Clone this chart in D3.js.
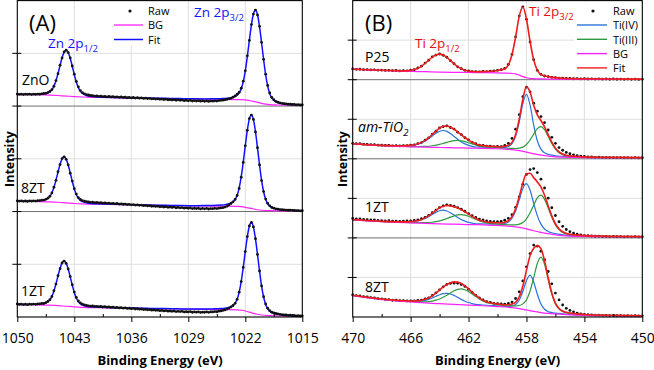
<!DOCTYPE html>
<html>
<head>
<meta charset="utf-8">
<script src="https://cdn.jsdelivr.net/npm/d3@7"></script>
<style>
  body { margin: 0; background: #fff; }
  svg { display: block; }
  text { font-family: "Open Sans", sans-serif; }
</style>
</head>
<body>
<svg></svg>
<script>
let width = 654, height = 370;

// ---------- data : panel A (Zn 2p), intensity in % of one stacked row ----------
const beA = d3.range(1050, 1014.99, -0.25);

const znoRaw = [
  11.4, 11.0, 11.3, 10.9, 11.3, 11.0, 11.4, 10.9, 11.3, 11.0, 11.4, 11.2,
  11.6, 11.9, 12.1, 12.8, 13.8, 15.6, 18.8, 24.2, 30.7, 38.8, 45.6, 51.3,
  53.0, 50.7, 45.6, 38.0, 30.2, 23.3, 18.2, 14.7, 12.8, 11.6, 10.9, 10.5,
  10.0, 9.9, 9.5, 9.6, 9.2, 9.4, 9.0, 9.2, 8.8, 9.1, 8.7, 8.9,
  8.5, 8.8, 8.3, 8.6, 8.2, 8.4, 7.9, 8.2, 7.8, 8.1, 7.6, 7.9,
  7.5, 7.7, 7.2, 7.5, 7.1, 7.3, 6.8, 7.0, 6.6, 6.9, 6.4, 6.6,
  6.2, 6.5, 6.0, 6.1, 5.8, 6.1, 5.5, 5.9, 5.4, 5.7, 5.1, 5.5,
  5.0, 5.4, 4.8, 5.2, 4.7, 5.1, 4.6, 5.0, 4.5, 4.9, 4.4, 4.9,
  4.6, 5.0, 4.7, 5.2, 5.4, 5.6, 5.9, 6.3, 6.9, 7.4, 8.4, 9.6,
  11.2, 13.1, 16.9, 23.6, 33.4, 47.6, 62.2, 77.3, 87.2, 91.0, 86.4, 75.6,
  60.4, 44.3, 30.2, 19.6, 12.4, 8.3, 6.0, 4.5, 3.6, 3.0, 2.6, 2.3,
  2.0, 1.8, 1.7, 1.5, 1.5, 1.2, 1.3, 1.0, 1.1
];
const znoFit = [
  [1050, 11.2], [1049, 11.2], [1048, 11.2], [1047.5, 11.3], [1047, 11.5], [1046.5, 12.0],
  [1046.25, 12.65], [1046, 13.7], [1045.75, 15.5], [1045.5, 18.9], [1045.25, 24.0], [1045, 30.9],
  [1044.75, 38.6], [1044.5, 45.85], [1044.25, 51.1], [1044, 53.0], [1043.75, 50.9], [1043.5, 45.35],
  [1043.25, 37.8], [1043, 29.9], [1042.75, 22.8], [1042.5, 17.5], [1042.25, 13.9], [1042, 11.9],
  [1041.5, 10.0], [1041, 9.2], [1040, 8.6], [1039, 8.35], [1038, 8.15], [1037, 8.0], [1036, 7.8],
  [1035, 7.7], [1034, 7.55], [1033, 7.45], [1032, 7.35], [1031, 7.25], [1030, 7.1], [1029, 6.95],
  [1028, 6.85], [1027, 6.8], [1026, 6.85], [1025, 7.05], [1024.5, 7.2], [1024, 7.6], [1023.75, 7.9],
  [1023.5, 8.4], [1023.25, 9.1], [1023, 10.4], [1022.75, 12.5], [1022.5, 16.3], [1022.25, 23.1],
  [1022, 33.4], [1021.75, 47.1], [1021.5, 62.4], [1021.25, 76.9], [1021, 87.5], [1020.75, 91.0],
  [1020.5, 86.6], [1020.25, 75.2], [1020, 60.0], [1019.75, 44.0], [1019.5, 29.7], [1019.25, 19.0],
  [1019, 11.8], [1018.75, 7.7], [1018.5, 5.5], [1018.25, 4.0], [1018, 3.25], [1017.5, 2.35],
  [1017, 1.8], [1016, 1.4], [1015, 1.1]
];
const znoBg = [
  [1050, 11.0], [1048, 10.8], [1046, 10.4], [1045, 10.0], [1044, 9.5], [1043, 9.0], [1042, 8.6],
  [1041, 8.3], [1040, 8.1], [1035, 7.5], [1030, 6.9], [1025, 6.4], [1023, 6.2], [1022, 5.9],
  [1021.5, 5.3], [1021, 4.5], [1020.5, 3.5], [1020, 2.6], [1019.5, 1.9], [1019, 1.4], [1018, 1.0],
  [1017, 0.8], [1015, 0.6]
];

const a8ztRaw = [
  10.2, 9.8, 10.1, 9.7, 10.0, 9.6, 10.1, 9.8, 10.1, 9.9, 10.3, 10.4,
  10.8, 10.9, 11.6, 12.7, 14.5, 17.6, 23.1, 29.6, 37.7, 44.5, 50.2, 51.9,
  49.5, 44.3, 36.4, 28.9, 21.7, 16.6, 13.2, 11.4, 10.3, 9.9, 9.3, 9.1,
  8.7, 8.9, 8.4, 8.6, 8.2, 8.4, 7.9, 8.1, 7.8, 8.0, 7.5, 7.7,
  7.3, 7.6, 7.1, 7.3, 6.9, 7.1, 6.6, 6.8, 6.4, 6.6, 6.1, 6.3,
  5.9, 6.1, 5.6, 5.8, 5.3, 5.6, 5.0, 5.2, 4.8, 5.1, 4.5, 4.7,
  4.3, 4.6, 4.0, 4.3, 3.9, 4.2, 3.6, 3.9, 3.5, 3.8, 3.2, 3.5,
  3.1, 3.4, 2.8, 3.1, 2.8, 3.1, 2.5, 2.9, 2.6, 2.9, 2.4, 2.8,
  2.7, 3.0, 2.8, 3.2, 3.4, 3.7, 4.2, 4.9, 6.3, 7.6, 9.2, 11.5,
  15.2, 21.9, 32.6, 46.6, 62.3, 77.0, 88.1, 91.5, 87.3, 75.4, 60.5, 44.2,
  29.4, 18.9, 11.8, 7.8, 5.4, 3.9, 3.2, 2.6, 2.2, 1.9, 1.7, 1.5,
  1.4, 1.2, 1.3, 1.1, 1.0, 0.8, 0.9, 0.7, 0.8
];
const a8ztFit = [
  [1050, 9.9], [1049, 9.8], [1048, 10.0], [1047.5, 10.15], [1047, 10.6], [1046.75, 10.85],
  [1046.5, 11.5], [1046.25, 12.55], [1046, 14.4], [1045.75, 17.8], [1045.5, 22.9], [1045.25, 29.8],
  [1045, 37.5], [1044.75, 44.75], [1044.5, 50.0], [1044.25, 51.85], [1044, 49.7], [1043.75, 44.15],
  [1043.5, 36.6], [1043.25, 28.65], [1043, 21.5], [1042.75, 16.2], [1042.5, 12.6], [1042.25, 10.6],
  [1042, 9.4], [1041.5, 8.3], [1041, 7.7], [1040, 7.35], [1039, 7.1], [1038, 6.85], [1037, 6.7],
  [1036, 6.55], [1035, 6.4], [1034, 6.2], [1033, 6.05], [1032, 5.95], [1031, 5.8], [1030, 5.7],
  [1029, 5.6], [1028, 5.6], [1027, 5.65], [1026, 5.8], [1025, 6.2], [1024.5, 6.55], [1024, 7.4],
  [1023.75, 8.1], [1023.5, 9.35], [1023.25, 11.6], [1023, 15.5], [1022.75, 22.5], [1022.5, 33.0],
  [1022.25, 46.9], [1022, 62.5], [1021.75, 77.2], [1021.5, 87.9], [1021.25, 91.5], [1021, 87.1],
  [1020.75, 75.65], [1020.5, 60.2], [1020.25, 44.05], [1020, 29.6], [1019.75, 18.75], [1019.5, 11.55],
  [1019.25, 7.6], [1019, 5.2], [1018.75, 3.85], [1018.5, 3.1], [1018.25, 2.6], [1018, 2.15],
  [1017.5, 1.7], [1017, 1.45], [1016, 1.0], [1015, 0.8]
];
const a8ztBg = [
  [1050, 9.7], [1048, 9.5], [1046, 9.2], [1045, 8.8], [1044, 8.2], [1043, 7.6], [1042, 7.2],
  [1040, 6.9], [1035, 6.2], [1030, 5.6], [1025, 5.1], [1023, 4.9], [1022.5, 4.6], [1022, 4.0],
  [1021.5, 3.2], [1021, 2.4], [1020.5, 1.7], [1020, 1.2], [1019, 0.8], [1017, 0.6], [1015, 0.5]
];

const a1ztRaw = [
  12.4, 11.9, 12.2, 11.8, 12.1, 11.7, 12.2, 11.9, 12.3, 12.0, 12.4, 12.5,
  12.9, 12.8, 13.6, 14.7, 16.4, 19.5, 24.9, 31.2, 39.1, 45.8, 51.2, 53.0,
  50.8, 45.6, 38.3, 30.6, 23.6, 18.5, 15.2, 13.3, 12.2, 11.4, 11.0, 10.6,
  10.3, 10.5, 10.0, 10.1, 9.8, 10.0, 9.5, 9.7, 9.3, 9.6, 9.1, 9.3,
  8.9, 9.1, 8.6, 8.8, 8.4, 8.6, 8.1, 8.3, 7.9, 8.1, 7.6, 7.8,
  7.4, 7.6, 7.0, 7.2, 6.8, 7.0, 6.5, 6.7, 6.3, 6.5, 6.0, 6.2,
  5.8, 6.1, 5.5, 5.7, 5.4, 5.7, 5.1, 5.4, 5.1, 5.4, 4.8, 5.0,
  4.8, 5.1, 4.5, 4.8, 4.6, 4.9, 4.3, 4.6, 4.5, 4.8, 4.4, 4.8,
  4.8, 5.1, 5.0, 5.5, 5.8, 6.2, 6.7, 7.5, 8.5, 9.6, 10.9, 13.0,
  16.8, 23.5, 33.6, 47.0, 62.0, 76.3, 86.4, 89.6, 85.4, 74.2, 59.3, 43.6,
  29.5, 19.2, 12.4, 8.3, 6.0, 4.6, 3.8, 3.3, 2.9, 2.5, 2.2, 2.0,
  1.9, 1.6, 1.7, 1.4, 1.4, 1.1, 1.2, 1.0, 1.1
];
const a1ztFit = [
  [1050, 12.0], [1049, 11.9], [1048, 12.1], [1047.5, 12.2], [1047, 12.55], [1046.75, 12.85],
  [1046.5, 13.4], [1046.25, 14.45], [1046, 16.3], [1045.75, 19.6], [1045.5, 24.7], [1045.25, 31.4],
  [1045, 39.0], [1044.75, 46.05], [1044.5, 51.3], [1044.25, 53.05], [1044, 51.0], [1043.75, 45.45],
  [1043.5, 38.1], [1043.25, 30.25], [1043, 23.3], [1042.75, 18.0], [1042.5, 14.5], [1042.25, 12.5],
  [1042, 11.3], [1041.5, 10.25], [1041, 9.75], [1040, 9.35], [1039, 9.1], [1038, 8.85], [1037, 8.7],
  [1036, 8.55], [1035, 8.4], [1034, 8.2], [1033, 8.05], [1032, 7.95], [1031, 7.8], [1030, 7.7],
  [1029, 7.6], [1028, 7.55], [1027, 7.6], [1026, 7.7], [1025, 8.0], [1024.5, 8.4], [1024, 9.15],
  [1023.75, 9.8], [1023.5, 11.05], [1023.25, 13.1], [1023, 17.0], [1022.75, 23.65], [1022.5, 33.8],
  [1022.25, 47.15], [1022, 62.2], [1021.75, 76.15], [1021.5, 86.3], [1021.25, 89.65], [1021, 85.2],
  [1020.75, 74.05], [1020.5, 59.1], [1020.25, 43.35], [1020, 29.3], [1019.75, 18.85], [1019.5, 11.9],
  [1019.25, 7.85], [1019, 5.6], [1018.75, 4.25], [1018.5, 3.5], [1018.25, 2.95], [1018, 2.6],
  [1017.5, 2.0], [1017, 1.75], [1016, 1.3], [1015, 1.05]
];
const a1ztBg = [
  [1050, 11.8], [1048, 11.6], [1046, 11.2], [1045, 10.8], [1044, 10.2], [1043, 9.6], [1042, 9.2],
  [1040, 8.9], [1035, 8.2], [1030, 7.6], [1025, 7.0], [1023, 6.7], [1022.5, 6.4], [1022, 5.7],
  [1021.5, 4.6], [1021, 3.5], [1020.5, 2.6], [1020, 1.9], [1019, 1.3], [1017, 0.9], [1015, 0.7]
];

// ---------- data : panel B (Ti 2p) ----------
const beB = d3.range(470, 449.99, -0.25);

const p25Raw = [
  13.6, 13.1, 13.2, 12.7, 12.8, 12.4, 12.5, 12.0, 12.1, 11.7, 11.9, 11.4,
  11.6, 11.1, 11.4, 11.2, 12.0, 12.7, 14.8, 17.1, 21.0, 24.6, 28.9, 31.1,
  32.5, 30.9, 28.4, 24.0, 20.3, 16.3, 13.9, 11.8, 11.0, 10.2, 10.3, 9.9,
  10.4, 10.2, 10.8, 11.0, 11.8, 12.6, 14.2, 19.3, 31.9, 54.2, 80.4, 92.0,
  76.3, 47.8, 25.3, 11.9, 6.8, 4.7, 3.9, 3.0, 2.7, 2.1, 2.0, 1.5,
  1.6, 1.2, 1.4, 1.0, 1.2, 0.9, 1.1, 0.8, 1.0, 0.7, 0.9, 0.6,
  0.9, 0.6, 0.8, 0.5, 0.8, 0.5, 0.7, 0.4, 0.7
];
const p25Fit = [
  [470, 13.4], [469, 12.65], [468, 11.95], [467, 11.45], [466.5, 11.2], [466.25, 11.3], [466, 11.75],
  [465.75, 12.8], [465.5, 14.55], [465.25, 17.25], [465, 20.8], [464.75, 24.8], [464.5, 28.6],
  [464.25, 31.3], [464, 32.3], [463.75, 31.1], [463.5, 28.2], [463.25, 24.25], [463, 20.2],
  [462.75, 16.55], [462.5, 13.75], [462.25, 11.95], [462, 10.85], [461.5, 10.1], [461, 10.2],
  [460.5, 10.6], [460, 11.6], [459.75, 12.45], [459.5, 13.8], [459.25, 18.8], [459, 31.6],
  [458.75, 53.9], [458.5, 80.0], [458.25, 91.9], [458, 76.7], [457.75, 48.3], [457.5, 25.0],
  [457.25, 11.8], [457, 6.45], [456.75, 4.9], [456.5, 3.85], [456, 2.6], [455.5, 1.85], [455, 1.45],
  [454, 1.15], [452, 0.85], [450, 0.7]
];
const p25Bg = [
  [470, 13.3], [468, 11.8], [466, 10.4], [465, 10.1], [464, 9.7], [463, 9.3], [462, 9.1], [461, 8.9],
  [460, 8.6], [459.5, 8.3], [459, 7.9], [458.75, 7.3], [458.5, 5.8], [458.25, 3.9], [458, 2.5],
  [457.75, 1.7], [457.5, 1.3], [457, 0.95], [456, 0.8], [454, 0.65], [450, 0.5]
];

const amRaw = [
  19.6, 19.0, 19.1, 18.4, 18.3, 17.8, 17.9, 17.2, 17.1, 16.9, 16.9, 16.4,
  16.6, 16.3, 16.6, 16.5, 17.2, 17.5, 19.1, 20.5, 23.6, 26.5, 31.2, 34.8,
  39.0, 40.8, 41.6, 39.6, 37.6, 33.7, 30.6, 26.6, 23.9, 20.7, 19.1, 17.1,
  16.9, 16.0, 15.9, 15.3, 15.8, 15.5, 16.9, 19.6, 25.8, 37.5, 55.8, 78.6,
  90.5, 84.7, 70.2, 60.1, 53.4, 45.8, 36.4, 27.2, 19.6, 14.2, 10.8, 8.1,
  6.4, 5.0, 4.1, 3.3, 2.9, 2.4, 2.3, 1.9, 2.0, 1.7, 1.8, 1.5,
  1.6, 1.4, 1.5, 1.3, 1.4, 1.2, 1.4, 1.1, 1.3
];
const amFit = [
  [470, 19.1], [469, 17.9], [468, 16.95], [467, 16.55], [466.5, 16.55], [466, 17.0], [465.75, 17.7],
  [465.5, 18.9], [465.25, 20.75], [465, 23.3], [464.75, 26.8], [464.5, 30.9], [464.25, 35.1],
  [464, 38.8], [463.75, 41.05], [463.5, 41.4], [463.25, 39.9], [463, 37.3], [462.75, 34.0],
  [462.5, 30.35], [462.25, 26.9], [462, 23.7], [461.75, 20.95], [461.5, 18.85], [461.25, 17.3],
  [461, 16.65], [460.5, 15.7], [460, 15.45], [459.75, 15.1], [459.5, 15.75], [459.25, 17.1],
  [459, 20.75], [458.75, 30.55], [458.5, 50.0], [458.25, 75.3], [458, 91.1], [457.75, 84.3],
  [457.5, 67.7], [457.25, 55.6], [457, 48.4], [456.75, 40.35], [456.5, 30.6], [456.25, 21.05],
  [456, 13.5], [455.75, 8.8], [455.5, 6.05], [455.25, 4.55], [455, 3.75], [454.5, 3.0], [454, 2.45],
  [453, 2.05], [452, 1.75], [450, 1.45]
];
const amTi4 = [
  [470, 19.0], [469, 17.8], [468, 16.85], [467, 16.35], [466.5, 16.3], [466, 16.7], [465.75, 17.3],
  [465.5, 18.4], [465.25, 20.1], [465, 22.4], [464.75, 25.5], [464.5, 28.95], [464.25, 32.3],
  [464, 34.9], [463.75, 35.8], [463.5, 34.7], [463.25, 31.9], [463, 28.3], [462.75, 24.6],
  [462.5, 21.35], [462.25, 18.9], [462, 17.0], [461.75, 15.7], [461.5, 14.95], [461, 14.7],
  [460.5, 14.4], [460, 14.3], [459.75, 14.1], [459.5, 14.45], [459.25, 15.55], [459, 19.2],
  [458.75, 28.5], [458.5, 46.8], [458.25, 69.9], [458, 81.4], [457.75, 67.8], [457.5, 42.7],
  [457.25, 22.8], [457, 12.2], [456.75, 7.55], [456.5, 5.6], [456.25, 4.55], [456, 3.8],
  [455.5, 3.05], [455, 2.5], [454, 1.9], [453, 1.5], [452, 1.45], [450, 1.35]
];
const amTi3 = [
  [470, 18.9], [469, 17.7], [468, 16.75], [467, 16.0], [466, 15.5], [465.5, 15.5], [465, 15.7],
  [464.5, 16.5], [464, 18.2], [463.75, 19.45], [463.5, 20.8], [463.25, 22.0], [463, 22.9],
  [462.75, 23.2], [462.5, 22.75], [462.25, 21.7], [462, 20.3], [461.75, 18.8], [461.5, 17.35],
  [461.25, 16.2], [461, 15.25], [460.5, 14.3], [460, 13.75], [459.5, 13.35], [459, 13.15],
  [458.75, 13.05], [458.5, 13.5], [458.25, 14.8], [458, 18.1], [457.75, 23.8], [457.5, 31.2],
  [457.25, 38.1], [457, 40.8], [456.75, 36.7], [456.5, 28.3], [456.25, 19.35], [456, 12.2],
  [455.75, 7.7], [455.5, 5.15], [455.25, 3.8], [455, 3.15], [454.5, 2.55], [454, 2.15],
  [453, 1.85], [452, 1.65], [450, 1.4]
];
const amBg = [
  [470, 18.8], [469, 17.6], [468, 16.6], [467, 15.8], [466, 15.2], [465, 14.8], [464, 14.3],
  [463, 13.9], [462, 13.6], [461, 13.3], [460, 12.7], [459.5, 12.15], [459, 11.6], [458.5, 10.3],
  [458, 8.4], [457.5, 6.2], [457, 4.6], [456.5, 3.3], [456, 2.5], [455.5, 2.15], [455, 1.9],
  [454, 1.6], [452, 1.4], [450, 1.3]
];

const b1ztRaw = [
  24.6, 23.9, 24.1, 23.3, 23.0, 22.6, 22.7, 22.0, 21.9, 21.5, 21.7, 21.1,
  21.2, 20.9, 21.1, 21.4, 21.5, 22.0, 22.8, 24.3, 26.0, 28.6, 31.8, 35.2,
  38.3, 40.5, 41.8, 41.2, 40.0, 38.4, 36.3, 33.7, 30.8, 28.1, 25.9, 23.8,
  22.6, 21.4, 20.9, 20.4, 20.5, 20.9, 22.3, 24.6, 29.4, 38.6, 51.9, 67.8,
  80.2, 86.4, 87.6, 82.6, 74.2, 63.1, 50.2, 38.1, 28.3, 20.4, 14.6, 10.6,
  7.9, 6.0, 4.6, 3.7, 3.0, 2.7, 2.4, 2.1, 2.1, 1.8, 1.9, 1.6,
  1.8, 1.5, 1.7, 1.4, 1.6, 1.3, 1.5, 1.2, 1.4
];
const b1ztFit = [
  [470, 23.2], [469, 22.0], [468, 21.0], [467, 20.35], [466.5, 20.3], [466, 20.55], [465.75, 21.05],
  [465.5, 21.9], [465.25, 23.35], [465, 25.35], [464.75, 28.1], [464.5, 31.3], [464.25, 34.8],
  [464, 38.0], [463.75, 40.1], [463.5, 40.95], [463.25, 40.5], [463, 39.35], [462.75, 37.7],
  [462.5, 35.55], [462.25, 32.95], [462, 30.1], [461.75, 27.35], [461.5, 24.75], [461.25, 22.45],
  [461, 21.35], [460.75, 20.05], [460.5, 19.6], [460, 19.15], [459.75, 19.0], [459.5, 19.75],
  [459.25, 21.85], [459, 26.9], [458.75, 36.75], [458.5, 52.15], [458.25, 69.4], [458, 81.1],
  [457.75, 81.7], [457.5, 76.2], [457.25, 70.8], [457, 64.4], [456.75, 53.9], [456.5, 40.55],
  [456.25, 27.9], [456, 17.9], [455.75, 11.6], [455.5, 7.8], [455.25, 5.8], [455, 4.65],
  [454.5, 3.55], [454, 2.9], [453, 2.45], [452, 1.9], [450, 1.65]
];
const b1ztTi4 = [
  [470, 22.9], [469, 21.8], [468, 20.75], [467, 20.15], [466.5, 20.0], [466, 20.2], [465.75, 20.65],
  [465.5, 21.4], [465.25, 22.7], [465, 24.5], [464.75, 26.9], [464.5, 29.6], [464.25, 32.25],
  [464, 34.3], [463.75, 35.0], [463.5, 34.05], [463.25, 31.75], [463, 28.85], [462.75, 25.9],
  [462.5, 23.25], [462.25, 21.15], [462, 19.6], [461.75, 18.6], [461.5, 17.85], [461, 17.65],
  [460.5, 17.4], [460, 17.6], [459.75, 17.5], [459.5, 18.15], [459.25, 20.1], [459, 24.9],
  [458.75, 34.1], [458.5, 48.0], [458.25, 62.4], [458, 68.5], [457.75, 60.3], [457.5, 43.8],
  [457.25, 28.2], [457, 17.4], [456.75, 11.3], [456.5, 8.15], [456.25, 6.5], [456, 5.3],
  [455.5, 3.9], [455, 3.0], [454, 2.2], [453, 1.85], [452, 1.7], [450, 1.55]
];
const b1ztTi3 = [
  [470, 22.9], [469, 21.75], [468, 20.7], [467, 19.9], [466, 19.35], [465.5, 19.2], [465, 19.25],
  [464.5, 19.8], [464.25, 20.5], [464, 21.5], [463.75, 22.8], [463.5, 24.45], [463.25, 26.2],
  [463, 27.85], [462.75, 29.05], [462.5, 29.45], [462.25, 28.8], [462, 27.4], [461.75, 25.55],
  [461.5, 23.55], [461.25, 21.6], [461, 20.1], [460.75, 18.85], [460.5, 18.35], [460, 17.45],
  [459.5, 16.8], [459, 16.5], [458.75, 16.55], [458.5, 17.35], [458.25, 19.4], [458, 24.1],
  [457.75, 31.7], [457.5, 41.4], [457.25, 50.6], [457, 54.0], [456.75, 48.7], [456.5, 37.7],
  [456.25, 26.0], [456, 16.5], [455.75, 10.4], [455.5, 6.8], [455.25, 4.95], [455, 3.95],
  [454.5, 3.0], [454, 2.5], [453, 2.15], [452, 1.9], [450, 1.6]
];
const b1ztBg = [
  [470, 22.8], [469, 21.6], [468, 20.5], [467, 19.7], [466, 19.0], [465, 18.4], [464, 17.8],
  [463, 17.35], [462, 16.9], [461, 16.4], [460, 15.9], [459.5, 15.3], [459, 14.5], [458.5, 13.2],
  [458, 11.5], [457.5, 9.0], [457, 7.0], [456.5, 5.3], [456, 3.9], [455.5, 2.9], [455, 2.3],
  [454, 1.8], [452, 1.6], [450, 1.5]
];

const b8ztRaw = [
  27.9, 27.0, 26.6, 25.6, 25.3, 24.4, 24.0, 23.1, 22.9, 22.2, 21.9, 21.2,
  21.3, 20.7, 20.8, 20.3, 20.5, 20.4, 20.9, 21.4, 22.9, 24.3, 27.3, 30.6,
  34.4, 38.2, 41.2, 42.4, 42.8, 42.6, 41.0, 38.6, 35.2, 31.0, 27.4, 24.1,
  21.6, 19.5, 18.6, 17.3, 16.9, 16.6, 16.4, 17.2, 18.9, 23.4, 31.8, 45.6,
  63.4, 80.2, 90.9, 89.6, 83.2, 72.4, 57.5, 42.0, 30.2, 21.6, 15.2, 11.0,
  8.3, 6.4, 5.0, 4.0, 3.4, 3.0, 2.7, 2.4, 2.3, 2.0, 2.1, 1.8,
  1.9, 1.6, 1.8, 1.5, 1.7, 1.4, 1.6, 1.3, 1.5
];
const b8ztFit = [
  [470, 27.4], [469, 25.0], [468, 22.85], [467, 21.15], [466.5, 20.6], [466, 20.25], [465.75, 20.35],
  [465.5, 20.6], [465.25, 21.25], [465, 22.5], [464.75, 24.25], [464.5, 26.9], [464.25, 30.35],
  [464, 34.1], [463.75, 37.95], [463.5, 41.1], [463.25, 43.4], [463, 44.4], [462.75, 44.1],
  [462.5, 42.35], [462.25, 39.3], [462, 35.5], [461.75, 31.25], [461.5, 27.2], [461.25, 23.75],
  [461, 21.2], [460.75, 19.05], [460.5, 18.0], [460, 16.3], [459.75, 15.85], [459.5, 15.4],
  [459.25, 15.45], [459, 16.35], [458.75, 18.7], [458.5, 25.35], [458.25, 39.1], [458, 58.9],
  [457.75, 77.8], [457.5, 87.0], [457.25, 90.2], [457, 86.4], [456.75, 71.2], [456.5, 49.55],
  [456.25, 30.4], [456, 17.6], [455.75, 10.85], [455.5, 7.5], [455.25, 5.95], [455, 5.05],
  [454.5, 4.0], [454, 3.25], [453, 2.5], [452, 2.1], [450, 1.6]
];
const b8ztTi4 = [
  [470, 27.2], [469, 24.7], [468, 22.5], [467, 20.8], [466.5, 20.1], [466, 19.7], [465.75, 19.65],
  [465.5, 19.8], [465.25, 20.25], [465, 21.1], [464.75, 22.35], [464.5, 24.1], [464.25, 26.15],
  [464, 28.1], [463.75, 29.55], [463.5, 29.9], [463.25, 29.1], [463, 27.2], [462.75, 24.8],
  [462.5, 22.25], [462.25, 20.0], [462, 18.3], [461.75, 16.95], [461.5, 16.0], [461, 15.2],
  [460.5, 14.55], [460, 14.05], [459.5, 13.4], [459.25, 13.35], [459, 14.05], [458.75, 15.9],
  [458.5, 21.4], [458.25, 32.3], [458, 46.2], [457.75, 53.0], [457.5, 44.3], [457.25, 28.8],
  [457, 16.4], [456.75, 9.8], [456.5, 6.85], [456.25, 5.6], [456, 4.9], [455.5, 4.0], [455, 3.3],
  [454, 2.4], [453, 2.0], [452, 1.75], [450, 1.5]
];
const b8ztTi3 = [
  [470, 27.2], [469, 24.75], [468, 22.6], [467, 20.85], [466, 19.55], [465.5, 19.2], [465, 19.2],
  [464.75, 19.45], [464.5, 20.1], [464.25, 21.25], [464, 22.8], [463.75, 24.95], [463.5, 27.5],
  [463.25, 30.4], [463, 33.1], [462.75, 35.0], [462.5, 35.55], [462.25, 34.5], [462, 32.2],
  [461.75, 29.1], [461.5, 25.8], [461.25, 22.8], [461, 20.2], [460.75, 18.15], [460.5, 17.15],
  [460, 15.45], [459.5, 14.5], [459, 14.1], [458.75, 14.0], [458.5, 14.55], [458.25, 16.6],
  [458, 21.6], [457.75, 32.8], [457.5, 49.7], [457.25, 67.7], [457, 75.6], [456.75, 66.5],
  [456.5, 47.3], [456.25, 29.0], [456, 16.6], [455.75, 10.0], [455.5, 6.8], [455.25, 5.35],
  [455, 4.55], [454.5, 3.6], [454, 2.95], [453, 2.3], [452, 1.95], [450, 1.6]
];
const b8ztBg = [
  [470, 27.0], [469, 24.5], [468, 22.3], [467, 20.5], [466, 19.0], [465, 17.8], [464, 16.8],
  [463, 15.9], [462, 15.0], [461, 14.2], [460, 13.2], [459, 11.8], [458.5, 10.6], [458, 8.9],
  [457.5, 7.0], [457, 5.6], [456.5, 4.6], [456, 3.9], [455.5, 3.3], [455, 2.8], [454.5, 2.4],
  [454, 2.1], [453, 1.8], [452, 1.6], [450, 1.4]
];

// tick labels
const ticksA = [1050, 1043, 1036, 1029, 1022, 1015];
const ticksB = [470, 466, 462, 458, 454, 450];
const namesA = ["ZnO", "8ZT", "1ZT"];
const namesB = ["P25", "am-TiO2", "1ZT", "8ZT"];
const legendA = ["Raw", "BG", "Fit"];
const legendB = ["Raw", "Ti(IV)", "Ti(III)", "BG", "Fit"];

// ---------- drawing ----------
let svg = d3.select("svg")
    .attr("width", width)
    .attr("height", height)
    .attr("viewBox", "0 0 " + width + " " + height);

const plotTop = 0.6, plotBottom = 317;
const col = { raw: "#111", bg: "#ff22ff", fitA: "#1010ff", ti4: "#2a74da", ti3: "#2d9b40", fitB: "#f01c1c", grid: "#dedede" };

function setup(left, right, domain, nRows) {
  let x = d3.scaleLinear().domain(domain).range([left, right]);
  let rowH = (plotBottom - plotTop) / nRows;
  let ys = d3.range(nRows).map(i => d3.scaleLinear().domain([0, 100])
      .range([plotTop + (i + 1) * rowH, plotTop + i * rowH]));
  return { x, ys, rowH, left, right };
}

function grid(g, P, majors) {
  g.selectAll(".vg").data(majors.slice(1, -1)).enter().append("line")
      .attr("x1", d => P.x(d)).attr("x2", d => P.x(d))
      .attr("y1", plotTop).attr("y2", plotBottom)
      .attr("stroke", col.grid).attr("stroke-width", 1);
  let hs = d3.range(1, P.ys.length * 2);
  g.selectAll(".hg").data(hs).enter().append("line")
      .attr("x1", P.left).attr("x2", P.right)
      .attr("y1", d => plotTop + d * P.rowH / 2).attr("y2", d => plotTop + d * P.rowH / 2)
      .attr("stroke", d => d % 2 == 0 ? "#6e6e6e" : col.grid).attr("stroke-width", 1);
}

function curve(g, P, yi, pts, color, w) {
  let line = d3.line().x(d => P.x(d[0])).y(d => P.ys[yi](d[1])).curve(d3.curveMonotoneX);
  g.append("path").attr("d", line(pts)).attr("fill", "none")
      .attr("stroke", color).attr("stroke-width", w).attr("stroke-linejoin", "round");
}

function dots(g, P, yi, be, vals, r) {
  g.append("g").selectAll("circle").data(vals).enter().append("circle")
      .attr("cx", (d, i) => P.x(be[i])).attr("cy", d => P.ys[yi](d))
      .attr("r", r).attr("fill", col.raw);
}

function frame(g, P, majors, minors) {
  g.append("rect").attr("x", P.left).attr("y", plotTop)
      .attr("width", P.right - P.left).attr("height", plotBottom - plotTop)
      .attr("fill", "none").attr("stroke", "#000").attr("stroke-width", 1.1);
  // x axis
  let ax = g.append("g").attr("transform", "translate(0," + plotBottom + ")")
      .call(d3.axisBottom(P.x).tickValues(majors).tickSize(5).tickPadding(11).tickFormat(d3.format("d")));
  ax.select(".domain").remove();
  ax.selectAll("text").attr("font-size", 14).attr("font-family", '"Open Sans", sans-serif').attr("fill", "#000");
  let mx = g.append("g").attr("transform", "translate(0," + plotBottom + ")")
      .call(d3.axisBottom(P.x).tickValues(minors).tickSize(-3).tickFormat(""));
  mx.select(".domain").remove();
  // y ticks, crossing the left axis
  let ty = d3.range(1, P.ys.length * 2).map(d => plotTop + d * P.rowH / 2);
  g.selectAll(".yt").data(ty).enter().append("line")
      .attr("x1", P.left - 5).attr("x2", P.left + 4)
      .attr("y1", d => d).attr("y2", d => d)
      .attr("stroke", "#000").attr("stroke-width", 1);
}

function axisTitles(g, P, cx, ixX) {
  g.append("text").attr("x", cx).attr("y", 365).attr("text-anchor", "middle")
      .attr("font-size", 13).attr("font-weight", "bold").text("Binding Energy (eV)");
  g.append("text").attr("transform", "translate(" + ixX + ",159) rotate(-90)")
      .attr("text-anchor", "middle").attr("font-size", 12.5).attr("font-weight", "bold").text("Intensity");
}

function peakLabel(g, x, y, main, sub, color) {
  let t = g.append("text").attr("x", x).attr("y", y).attr("font-size", 13.5).attr("fill", color);
  t.append("tspan").text(main);
  t.append("tspan").attr("font-size", 9.5).attr("dy", 3.5).text(sub);
}

// ---- Panel A ----
let A = setup(17.3, 302.3, [1050, 1015], 3);
let gA = svg.append("g");
grid(gA, A, ticksA);
gA.append("rect").attr("x", 107).attr("y", 1.5).attr("width", 72).attr("height", 44).attr("fill", "#fff");

[[znoRaw, znoFit, znoBg], [a8ztRaw, a8ztFit, a8ztBg], [a1ztRaw, a1ztFit, a1ztBg]].forEach((s, i) => {
  curve(gA, A, i, s[2], col.bg, 1.2);
  curve(gA, A, i, s[1], col.fitA, 1.5);
  dots(gA, A, i, beA, s[0], 1.4);
});

frame(gA, A, ticksA, d3.range(1046.5, 1015, -7));
axisTitles(gA, A, 160, 13.5);

gA.append("text").attr("x", 29).attr("y", 31).attr("font-size", 22).text("(A)");
peakLabel(gA, 48, 48, "Zn 2p", "1/2", "#1414ff");
peakLabel(gA, 194, 17, "Zn 2p", "3/2", "#1414ff");
[[22, 85], [21, 193], [21, 296]].forEach((p, i) => {
  gA.append("text").attr("x", p[0]).attr("y", p[1]).attr("font-size", 14).text(namesA[i]);
});

// legend A
let lgA = gA.append("g").attr("font-size", 11);
lgA.append("circle").attr("cx", 130).attr("cy", 11).attr("r", 1.6).attr("fill", col.raw);
lgA.append("line").attr("x1", 114).attr("x2", 143).attr("y1", 25).attr("y2", 25).attr("stroke", col.bg).attr("stroke-width", 1.3);
lgA.append("line").attr("x1", 114).attr("x2", 143).attr("y1", 39.5).attr("y2", 39.5).attr("stroke", col.fitA).attr("stroke-width", 1.5);
legendA.forEach((t, i) => {
  lgA.append("text").attr("x", 148).attr("y", 15 + i * 14.3).text(t);
});

// ---- Panel B ----
let B = setup(352.7, 642.3, [470, 450], 4);
let gB = svg.append("g");
grid(gB, B, ticksB);
gB.append("rect").attr("x", 574).attr("y", 1.5).attr("width", 67.5).attr("height", 77).attr("fill", "#fff");

dots(gB, B, 0, beB, p25Raw, 1.4);
curve(gB, B, 0, p25Bg, col.bg, 1.2);
curve(gB, B, 0, p25Fit, col.fitB, 1.6);

[[amRaw, amFit, amBg, amTi4, amTi3], [b1ztRaw, b1ztFit, b1ztBg, b1ztTi4, b1ztTi3],
 [b8ztRaw, b8ztFit, b8ztBg, b8ztTi4, b8ztTi3]].forEach((s, k) => {
  let i = k + 1;
  dots(gB, B, i, beB, s[0], 1.4);
  curve(gB, B, i, s[3], col.ti4, 1.2);
  curve(gB, B, i, s[4], col.ti3, 1.2);
  curve(gB, B, i, s[2], col.bg, 1.2);
  curve(gB, B, i, s[1], col.fitB, 1.6);
});

frame(gB, B, ticksB, d3.range(468, 450, -4));
axisTitles(gB, B, 497.5, 347);

gB.append("text").attr("x", 365).attr("y", 31).attr("font-size", 22).text("(B)");
peakLabel(gB, 415, 48, "Ti 2p", "1/2", "#e01010");
peakLabel(gB, 529, 16, "Ti 2p", "3/2", "#e01010");
gB.append("text").attr("x", 365).attr("y", 62).attr("font-size", 14).text(namesB[0]);
let am = gB.append("text").attr("x", 358).attr("y", 132).attr("font-size", 14).attr("font-style", "italic");
am.append("tspan").text("am-TiO");
am.append("tspan").attr("font-size", 9.5).attr("dy", 3.5).text("2");
gB.append("text").attr("x", 365).attr("y", 212).attr("font-size", 14).text(namesB[2]);
gB.append("text").attr("x", 365).attr("y", 292).attr("font-size", 14).text(namesB[3]);

// legend B
let lgB = gB.append("g").attr("font-size", 11);
lgB.append("circle").attr("cx", 593).attr("cy", 11).attr("r", 1.6).attr("fill", col.raw);
[col.ti4, col.ti3, col.bg, col.fitB].forEach((c, i) => {
  lgB.append("line").attr("x1", 577).attr("x2", 607).attr("y1", 25 + i * 14.3).attr("y2", 25 + i * 14.3)
      .attr("stroke", c).attr("stroke-width", 1.4);
});
legendB.forEach((t, i) => {
  lgB.append("text").attr("x", 613).attr("y", 15 + i * 14.3).text(t);
});
</script>
</body>
</html>
